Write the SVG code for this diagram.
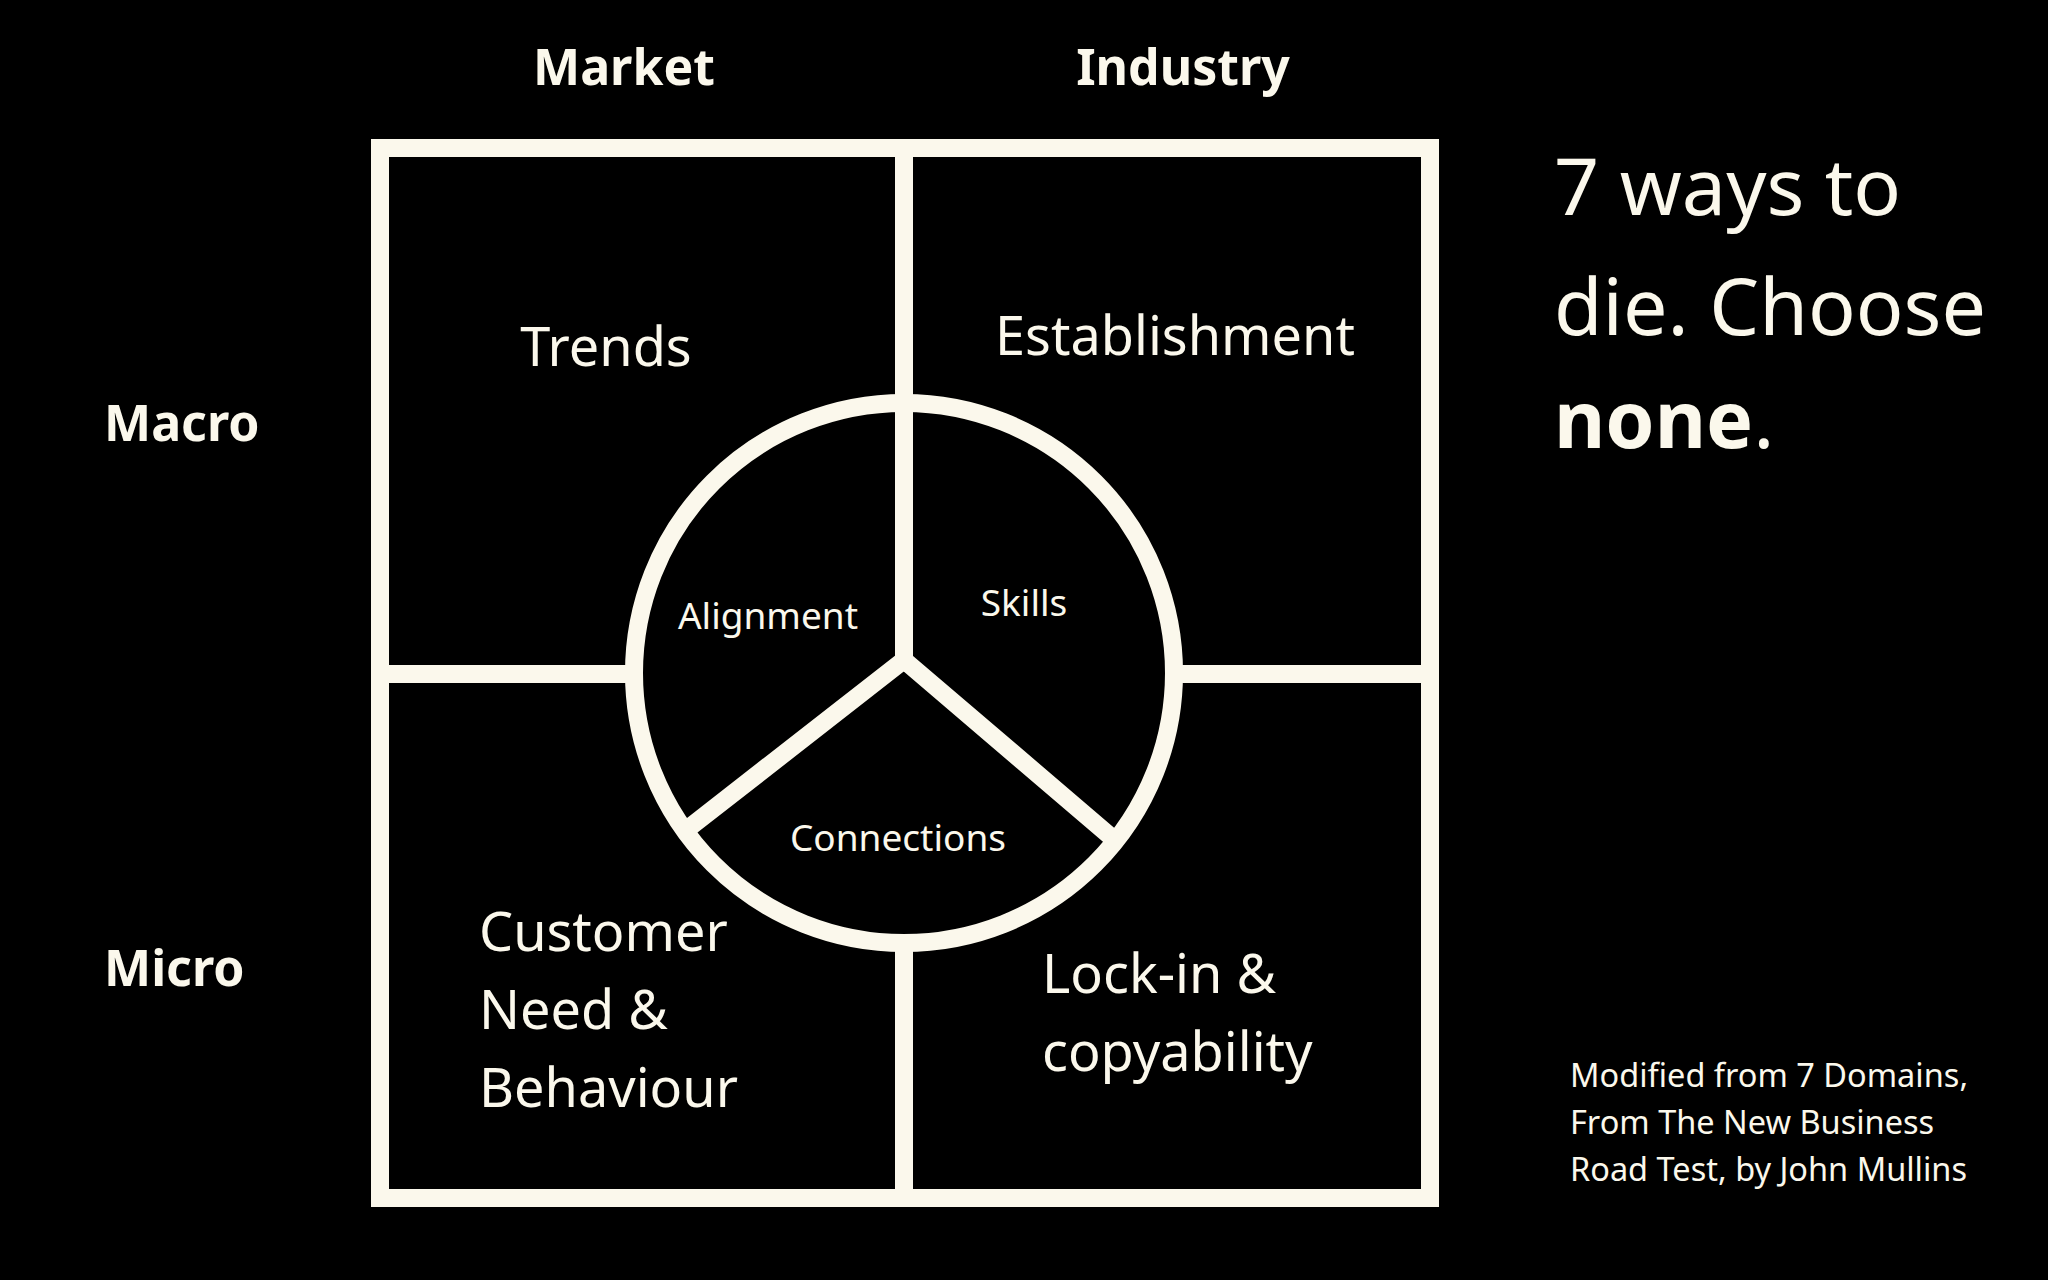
<svg xmlns="http://www.w3.org/2000/svg" width="2048" height="1280" viewBox="0 0 2048 1280">
<style>
.ln{fill:none;stroke:#fbf8ec;stroke-width:18}
.cf{fill:#000;stroke:#fbf8ec;stroke-width:18}
text{font-family:"Noto Sans","Open Sans",sans-serif;fill:#fbf8ec}
.h{font-weight:bold;font-size:50px}
.q{font-size:54px}
.s{font-size:37px;text-anchor:middle}
</style>
<rect width="2048" height="1280" fill="#000"/>
<g id="connectors">
<rect class="ln" x="380" y="148" width="1050" height="1050"/>
<line class="ln" x1="904" y1="148" x2="904" y2="1198"/>
<line class="ln" x1="380" y1="674" x2="1430" y2="674"/>
<circle class="cf" cx="904" cy="673" r="270"/>
<polyline class="ln" points="904,401 904,660"/>
<polyline class="ln" points="690,827 904,660 1110,836"/>
</g>
<g id="headers">
<text class="h" x="624" y="85" text-anchor="middle">Market</text>
<text class="h" x="1183" y="85" text-anchor="middle">Industry</text>
<text class="h" x="104" y="441">Macro</text>
<text class="h" x="104" y="986">Micro</text>
</g>
<g id="trends"><text class="q" x="606" y="366" text-anchor="middle">Trends</text></g>
<g id="establishment"><text class="q" x="1175" y="355" text-anchor="middle">Establishment</text></g>
<g id="alignment"><text class="s" x="768" y="629">Alignment</text></g>
<g id="skills"><text class="s" x="1024" y="616">Skills</text></g>
<g id="connections"><text class="s" x="898" y="851">Connections</text></g>
<g id="customer"><text class="q" x="479" y="951">Customer</text><text class="q" x="479" y="1029">Need &amp;</text><text class="q" x="479" y="1107">Behaviour</text></g>
<g id="lockin"><text class="q" x="1042" y="993">Lock-in &amp;</text><text class="q" x="1042" y="1071">copyability</text></g>
<g id="title">
<text x="1554" y="215" font-size="79">7 ways to</text>
<text x="1554" y="335" font-size="79">die. Choose</text>
<text x="1554" y="448" font-size="79"><tspan font-weight="bold">none</tspan>.</text>
</g>
<g id="credit">
<text x="1570" y="1087" font-size="32.5">Modified from 7 Domains,</text>
<text x="1570" y="1134" font-size="32.5">From The New Business</text>
<text x="1570" y="1181" font-size="32.5">Road Test, by John Mullins</text>
</g>
</svg>
